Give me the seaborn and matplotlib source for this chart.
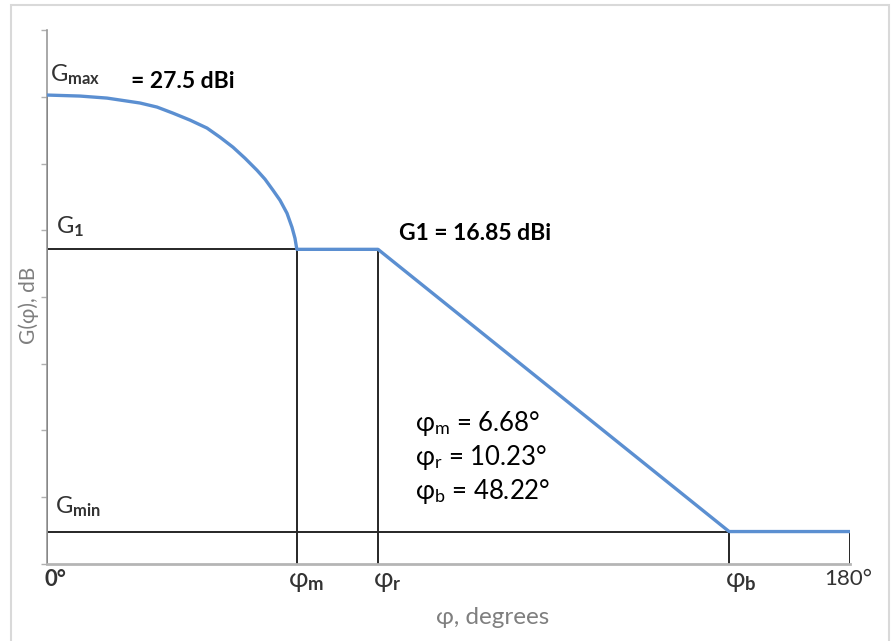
import numpy as np
import pandas as pd
import matplotlib
matplotlib.use("Agg")
import matplotlib.pyplot as plt
import seaborn as sns
from matplotlib.patches import Rectangle
from matplotlib.transforms import blended_transform_factory, offset_copy

# Gain levels of the reference antenna pattern (dBi)
g_max = 27.5
g_1 = 16.85
g_min = -2.63

# Angles quoted in the annotation block (degrees)
phi_m_deg = 6.68
phi_r_deg = 10.23
phi_b_deg = 48.22

# Schematic positions of the angle marks along the horizontal axis (not to scale)
tick_labels = ["0°", r"φ$_\mathbf{m}$", r"φ$_\mathbf{r}$", r"φ$_\mathbf{b}$", "180°"]
tick_pos = [0.0, 56.0, 74.2, 152.9, 180.0]

# Main-lobe roll-off from boresight down to φm
lobe_x = [0.0, 7.40, 13.45, 20.85, 24.66, 28.24, 32.06, 35.87, 38.78, 41.69,
          44.38, 47.07, 48.87, 50.66, 52.23, 53.80, 54.92, 55.59, 56.0]
lobe_g = [27.5, 27.43, 27.29, 26.95, 26.67, 26.25, 25.77, 25.22, 24.59, 23.90,
          23.14, 22.31, 21.69, 20.93, 20.24, 19.34, 18.37, 17.61, 16.85]

# Full envelope: main lobe, flat G1 shelf, linear decay, flat Gmin floor
pattern = pd.DataFrame({
    "phi": lobe_x + [tick_pos[2], tick_pos[3], tick_pos[4]],
    "gain": lobe_g + [g_1, g_min, g_min],
})

sns.set_theme(style="white")
plt.rcParams["font.family"] = ["Lato", "DejaVu Sans"]
plt.rcParams["mathtext.fontset"] = "custom"
plt.rcParams["mathtext.rm"] = "Lato"
plt.rcParams["mathtext.bf"] = "Lato:bold"
plt.rcParams["mathtext.it"] = "Lato:italic"
plt.rcParams["mathtext.fallback"] = "stixsans"

W, H = 892, 641
fig = plt.figure(figsize=(W / 100, H / 100), dpi=100)
fig.patch.set_facecolor("white")

# thin light frame around the whole figure
fig.patches.append(Rectangle((11 / W, -0.01), 878 / W, 1 - 5 / H + 0.01,
                             transform=fig.transFigure, fill=False,
                             edgecolor="#d9d9d9", lw=1.5))

ax = fig.add_axes([47 / W, 77 / H, 803 / W, 534 / H])
y_lo, y_hi = -4.87, 31.99
ax.set_xlim(0, 180)
ax.set_ylim(y_lo, y_hi)

line_kw = dict(color="#262626", lw=1.4, zorder=2)
ax.vlines(0, y_lo, g_max, **line_kw)
ax.hlines(g_1, 0, tick_pos[1], **line_kw)
ax.hlines(g_min, 0, tick_pos[3], **line_kw)
ax.vlines([tick_pos[1], tick_pos[2]], y_lo, g_1, **line_kw)
ax.vlines([tick_pos[3], tick_pos[4]], y_lo, g_min, **line_kw)

sns.lineplot(data=pattern, x="phi", y="gain", sort=False, ax=ax,
             color="#5b8fd1", lw=2.4, zorder=3)

for side in ["top", "right"]:
    ax.spines[side].set_visible(False)
ax.spines["left"].set_color("#9a9a9a")
ax.spines["left"].set_linewidth(1.2)
ax.spines["bottom"].set_color("#b5b5b5")
ax.spines["bottom"].set_linewidth(2.0)

ax.set_yticks(np.linspace(y_lo, y_hi, 9))
ax.set_yticklabels([])
ax.tick_params(axis="y", left=True, length=4, width=1, color="#b0b0b0", direction="out")
ax.set_xticks([])
ax.set_xlabel("")
ax.set_ylabel("")

# angle labels under the axis
blend = blended_transform_factory(ax.transData, ax.transAxes)
label_dx = [8, 9, 9, 12, -2]
label_wt = ["bold", "normal", "normal", "normal", "normal"]
label_fs = [16, 19, 19, 19, 16]
for pos, lab, dx, wt, fs in zip(tick_pos, tick_labels, label_dx, label_wt, label_fs):
    ax.text(pos, 0, lab, transform=offset_copy(blend, fig=fig, x=dx, y=-5, units="dots"),
            ha="center", va="top", fontsize=fs, color="#333333", fontweight=wt)

# level labels on the left
ax.text(0, g_max, r"G$_\mathbf{max}$", transform=offset_copy(ax.transData, fig=fig, x=3, y=8, units="dots"),
        ha="left", va="bottom", fontsize=17, color="#333333")
ax.text(0, g_1, r"G$_\mathbf{1}$", transform=offset_copy(ax.transData, fig=fig, x=9, y=10, units="dots"),
        ha="left", va="bottom", fontsize=17, color="#333333")
ax.text(0, g_min, r"G$_\mathbf{min}$", transform=offset_copy(ax.transData, fig=fig, x=8, y=13, units="dots"),
        ha="left", va="bottom", fontsize=17, color="#333333")

# value callouts
fig.text(131 / W, 1 - 81 / H, f"= {g_max:g} dBi", ha="left", va="center",
         fontsize=16.5, fontweight="bold", color="black")
fig.text(399 / W, 1 - 234 / H, f"G1 = {g_1:.2f} dBi", ha="left", va="center",
         fontsize=16.5, fontweight="bold", color="black")

angle_lines = [
    (r"φ$_{\rm m}$ = " + f"{phi_m_deg:.2f}°", 424),
    (r"φ$_{\rm r}$ = " + f"{phi_r_deg:.2f}°", 458),
    (r"φ$_{\rm b}$ = " + f"{phi_b_deg:.2f}°", 491),
]
for txt, ypx in angle_lines:
    fig.text(415 / W, 1 - ypx / H, txt, ha="left", va="center", fontsize=18.5, color="black")

# axis titles
fig.text(493 / W, 1 - 617 / H, "φ, degrees", ha="center", va="center",
         fontsize=17.5, color="#7f7f7f")
fig.text(29 / W, 1 - 305 / H, "G(φ), dB", ha="center", va="center", rotation=90,
         fontsize=15, color="#7f7f7f")

fig.savefig("out.png", dpi=100, facecolor="white")
